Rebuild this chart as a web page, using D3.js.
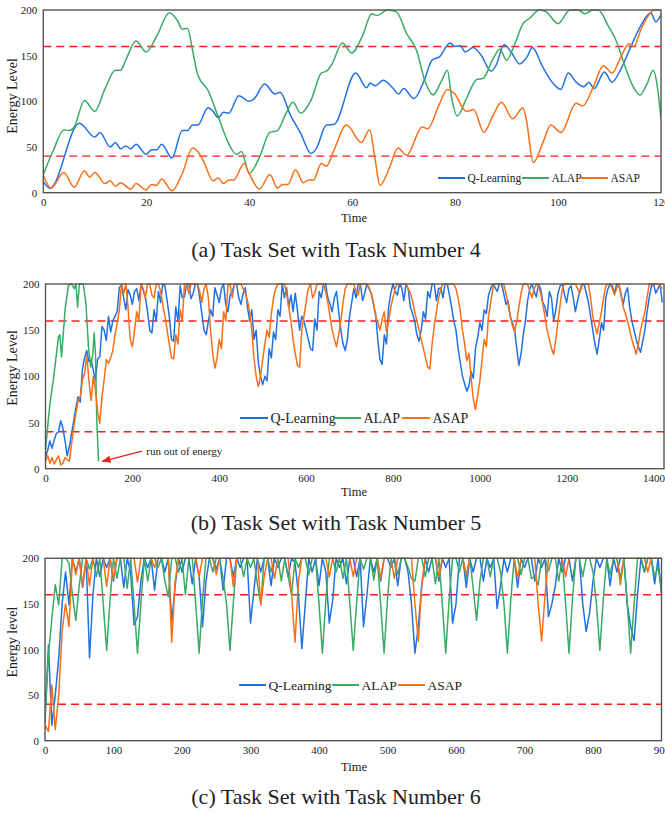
<!DOCTYPE html>
<html>
<head>
<meta charset="utf-8">
<script src="https://cdn.jsdelivr.net/npm/d3@7"></script>
<style>
  body { margin: 0; background: #fff; }
  text { font-family: "Liberation Serif", "DejaVu Serif", serif; fill: #222; }
</style>
</head>
<body>
<script>
// ---------- data ----------
const seriesNames = ["Q-Learning", "ALAP", "ASAP"];
const yTicks = [0, 50, 100, 150, 200];
const thresholds = [40, 160];

// (a) task number 4 : [time, energy]
const aTicks = [0, 20, 40, 60, 80, 100, 120];
const aQ = [[0,12],[1.3,5],[7,76],[10,61],[11,66],[13,50],[14,55],[15,48],[16,51],[17,48],[18,53],[20,42],[21,47],[22,47],[23,53],[25,38],[27,68],[28,68],[29,74],[30,74],[32,93],[33,89],[34,82],[35,88],[36,87],[38,106],[40,100],[41,103],[43,119],[45,108],[46,110],[48,85],[50,65],[52,43],[53,48],[55,74],[56.5,75],[60.7,131],[62.8,115],[63.5,120],[64.5,117],[66,123],[68,114],[69,108],[70,114],[72,103],[74,123],[75.5,145],[77,149],[79,164],[80,160],[81,161],[82,154],[83.5,159],[85,151],[87,133],[88,140],[89.5,162],[91,153],[92.5,141],[94,149],[95,159],[97,138],[99,120],[100.5,113],[102,131],[103.5,121],[105,116],[106,121],[107,114],[109,132],[110.5,121],[112,133],[114,158],[116,182],[118,197],[119,187],[120,195]];
const aALAP = [[0,20],[2,47],[4,69],[5,68],[6,72],[8,101],[10,89],[12,114],[14,134],[15,134],[16,145],[18,166],[20,154],[22,171],[24.5,197],[26,189],[27,179],[28,180],[29,156],[30,129],[32,112],[34,83],[36,54],[37.5,42],[38.5,45],[40,21],[42,39],[44,66],[45.5,68],[47,85],[48.5,99],[50,87],[52,101],[54,131],[55,133],[56,140],[58.1,164],[59.9,153],[62.1,173],[63.8,196],[64.9,194],[66.8,200],[68.6,198],[70.6,174],[72.5,156],[74.1,123],[75.7,107],[77.4,123],[78.5,134],[79.3,105],[80.4,84],[82.2,103],[84.2,124],[85.4,125],[87.4,147],[88.7,157],[90,145],[91.6,163],[93.2,185],[94.5,191],[96.4,200],[97.7,198],[100,185],[102.3,200],[103.9,200],[105.2,196],[106.8,200],[107.8,200],[109.8,182],[111.4,165],[112.6,145],[114.6,116],[115.9,107],[117.2,118],[118.5,134],[119.1,123],[120,81]];
const aASAP = [[0,19],[1.5,5],[4,22],[6,6],[8,24],[9,17],[10,22],[12,10],[13,13],[14,7],[15,11],[17,4],[18,10],[20,3],[21,9],[22,8],[23,15],[25,2],[27,21],[29,49],[30,45],[31,36],[33,13],[34,16],[35,10],[36,14],[37,14],[39,32],[40,21],[42,4],[44,20],[45.5,5],[46.5,9],[47.5,9],[49,25],[50.5,11],[51.5,14],[52.5,14],[54,32],[55,29],[56.5,47],[58.9,74],[61.8,55],[63.4,69],[64.4,39],[65.4,8],[67.3,28],[68.9,49],[70.6,41],[73.6,72],[74.7,70],[76.8,95],[78.5,113],[79.8,109],[82.2,89],[83.6,91],[85.6,66],[87.4,85],[89,99],[91.2,81],[93.2,93],[93.8,81],[95.2,33],[97,54],[98.6,74],[100.6,66],[103.5,98],[104.8,95],[106.8,115],[108.8,139],[110.5,131],[112,146],[113.8,163],[114.7,160],[116.2,180],[117.8,196],[118.8,200],[120,200]];

// (b) task number 5 : one value every 5 time units (20 per row = 100 units), ALAP as [time, energy]
const bTicks = [0, 200, 400, 600, 800, 1000, 1200, 1400];
const bStep = 5;
const bQ = [12,20,30,22,31,38,40,52,44,30,14,24,38,52,66,78,72,108,120,128,
  116,118,107,96,119,121,154,150,139,165,148,160,165,170,196,199,185,172,194,188,
  178,192,195,182,200,193,185,170,150,147,172,160,192,180,200,198,182,165,140,138,
  175,160,198,185,186,200,200,184,190,200,200,185,168,150,145,160,172,165,196,188,
  180,195,200,178,170,188,192,200,200,185,178,190,196,175,160,172,140,150,115,100,
  91,100,95,130,120,148,140,172,165,200,185,196,175,188,170,190,172,150,165,160,
  150,140,130,128,162,150,192,185,200,200,185,178,170,185,192,170,150,135,128,140,
  165,180,195,185,200,200,182,190,200,195,190,178,168,140,118,113,145,135,175,190,
  200,192,188,200,196,182,200,195,175,168,160,145,138,150,170,162,192,185,200,200,
  182,195,196,185,200,200,188,175,160,150,130,115,100,92,84,90,105,98,130,142,
  158,150,172,168,188,195,200,196,192,200,200,190,178,182,165,158,150,130,112,125,
  145,160,182,195,200,192,186,200,195,180,175,165,192,185,160,172,190,198,200,188,
  180,195,198,185,170,182,192,200,200,190,180,165,150,135,124,140,158,150,185,195,
  200,198,190,200,200,188,178,190,196,175,160,150,140,132,126,138,150,170,185,198,
  200,190,195,200,180];
const bASAP = [8,14,6,12,5,10,14,4,6,12,10,8,27,45,60,74,78,96,103,123,
  95,74,100,85,62,49,78,96,118,114,120,128,145,157,172,200,190,200,175,140,
  132,150,170,160,200,195,185,200,200,188,185,200,200,192,178,165,150,135,120,119,
  145,135,172,160,200,200,190,200,200,200,200,192,180,195,200,185,150,125,109,120,
  140,130,170,160,198,200,185,200,200,200,200,195,190,182,170,150,120,100,89,100,
  118,135,150,142,168,185,195,200,200,200,200,190,175,160,140,125,112,110,150,165,
  180,195,200,185,190,200,200,200,200,192,180,165,150,140,132,145,160,180,195,200,
  200,200,200,192,188,200,200,200,200,196,190,180,165,158,150,162,170,148,160,175,
  185,195,200,200,200,200,200,195,190,182,170,160,150,140,130,120,110,108,135,155,
  170,185,195,200,200,200,200,200,200,195,185,170,150,135,117,125,98,75,64,80,
  95,118,140,132,165,180,195,200,200,200,200,200,190,178,165,155,148,160,175,190,
  200,200,200,192,185,195,200,198,190,178,165,150,140,130,124,140,160,178,195,200,
  200,200,200,200,200,195,190,198,200,200,200,185,165,155,146,158,170,185,198,200,
  200,195,188,195,200,190,175,168,160,150,140,132,124,135,150,160,170,185,200,200,
  200,200,200,198,195];
const bALAP = [[0,20],[10,70],[18,96],[30,143],[33,145],[37,121],[45,172],[53,199],[60,200],[66,195],[70,200],[74,175],[78,200],[87,200],[93,179],[99,132],[104,110],[109,125],[112,147],[115,125],[118,53],[122,8]];

// (c) task number 6 : one value every 5 time units (9 per row = 45 units)
const cTicks = [0, 100, 200, 300, 400, 500, 600, 700, 800, 900];
const cStep = 5;
const cQ = [20,105,17,50,90,150,185,149,200,
  185,200,168,200,91,160,200,180,200,
  190,200,175,200,200,168,200,185,127,
  136,175,200,190,200,165,200,200,185,
  200,129,170,200,185,200,200,172,200,
  180,125,175,200,200,188,200,165,200,
  200,180,200,190,200,200,129,165,200,
  185,200,200,170,200,190,200,200,180,
  200,195,160,101,150,200,185,200,170,
  200,185,129,154,200,190,200,172,200,
  200,180,200,125,160,200,185,200,175,
  200,200,190,200,170,200,200,185,150,
  96,125,170,200,185,200,200,175,200,
  190,200,129,150,200,200,168,200,185,
  200,200,175,200,190,200,145,170,200,
  185,200,200,168,200,190,200,200,175,
  200,190,200,136,150,170,200,185,200,
  200,175,200,200,150,120,140,175,200,
  190,200,200,170,200,185,200,200,150,
  125,110,160,200,185,200,200,172,200,
  160];
const cALAP = [25,94,134,171,149,200,200,195,160,
  132,170,200,200,188,200,180,200,150,
  99,155,200,178,200,200,167,200,150,
  96,150,200,175,200,200,190,200,175,
  158,200,200,185,200,160,200,200,150,
  96,155,200,200,185,200,200,178,150,
  99,152,200,200,180,200,190,200,172,
  150,200,200,185,200,200,175,200,180,
  160,200,190,200,200,182,200,200,150,
  96,155,200,200,185,200,178,200,150,
  99,152,200,188,200,200,176,200,150,
  96,155,200,200,182,200,200,190,178,
  175,200,200,180,200,200,172,200,150,
  96,155,200,200,185,200,178,200,168,
  132,175,200,200,180,200,200,185,150,
  96,155,200,200,182,200,200,178,180,
  171,200,200,186,200,200,175,200,150,
  96,155,200,200,180,200,200,185,150,
  99,155,200,182,200,200,178,200,150,
  96,150,200,200,185,200,200,180,190,
  165];
const cASAP = [17,10,61,12,50,120,150,125,200,
  182,200,169,200,170,200,200,200,200,
  169,200,178,200,200,200,200,200,200,
  174,200,200,200,200,190,200,200,200,
  200,108,175,200,200,200,200,200,200,
  180,200,200,200,200,182,200,200,200,
  200,169,200,200,200,200,200,200,200,
  149,180,200,200,178,200,200,200,200,
  160,108,175,200,200,200,200,200,200,
  200,200,180,200,200,200,200,200,200,
  180,200,200,200,200,200,200,200,178,
  200,200,200,178,200,200,200,200,200,
  150,109,170,200,200,200,200,180,200,
  200,200,200,200,200,200,182,200,200,
  200,200,200,200,200,200,200,200,200,
  200,200,200,178,200,200,200,200,200,
  150,109,160,200,200,200,200,200,180,
  200,200,200,200,200,200,200,200,200,
  200,200,200,200,200,200,171,200,200,
  200,200,200,200,200,185,200,200,200,
  200];

// ---------- drawing ----------
const colors = ["#2271e3", "#3aaa64", "#f96f17"];
const W = 665, H = 813;
const serif = "'Liberation Serif', 'DejaVu Serif', serif";

const svg = d3.select("body").append("svg")
    .attr("width", W)
    .attr("height", H);

// arrow head for the annotation
svg.append("defs").append("marker")
    .attr("id", "arrow")
    .attr("viewBox", "0 0 10 10")
    .attr("refX", 9).attr("refY", 5)
    .attr("markerWidth", 7).attr("markerHeight", 7)
    .attr("orient", "auto")
  .append("path")
    .attr("d", "M0,1 L10,5 L0,9 z")
    .attr("fill", "#e8231c");

const stepped = (vals, step) => vals.map((v, i) => [i * step, v]);

const panels = [
  { id: "a", left: 43.3, right: 661, top: 10, bottom: 192.7, xMax: 120, ticks: aTicks,
    series: [aQ, aALAP, aASAP], smooth: true,
    ylabel: "Energy Level", ylabelY: 96, timeY: 222,
    caption: "(a) Task Set with Task Number 4", captionY: 257,
    legend: { xs: [438, 522, 581], y: 178, len: 27, size: 11.5 } },
  { id: "b", left: 45.5, right: 664, top: 284, bottom: 468.7, xMax: 1424, ticks: bTicks,
    series: [stepped(bQ, bStep), bALAP, stepped(bASAP, bStep)], smooth: false,
    ylabel: "Energy Level", ylabelY: 368, timeY: 496,
    caption: "(b) Task Set with Task Number 5", captionY: 530,
    legend: { xs: [240, 333, 402], y: 418, len: 28, size: 14 } },
  { id: "c", left: 45, right: 661.5, top: 558.3, bottom: 740.7, xMax: 900, ticks: cTicks,
    series: [stepped(cQ, cStep), stepped(cALAP, cStep), stepped(cASAP, cStep)], smooth: false,
    ylabel: "Energy level", ylabelY: 642, timeY: 771,
    caption: "(c) Task Set with Task Number 6", captionY: 804,
    legend: { xs: [239, 332, 398], y: 685, len: 27, size: 13.5 } }
];

panels.forEach(p => {
  const x = d3.scaleLinear().domain([0, p.xMax]).range([p.left, p.right]);
  const y = d3.scaleLinear().domain([0, 200]).range([p.bottom, p.top]);
  const g = svg.append("g").attr("id", "panel-" + p.id);

  g.append("clipPath").attr("id", "clip-" + p.id)
    .append("rect")
    .attr("x", p.left).attr("y", p.top - 1)
    .attr("width", p.right - p.left).attr("height", p.bottom - p.top + 1);

  // threshold lines
  g.selectAll(".thr")
    .data(thresholds)
    .enter()
    .append("line")
    .attr("x1", p.left).attr("x2", p.right)
    .attr("y1", d => y(d)).attr("y2", d => y(d))
    .attr("stroke", "#ff1a1a")
    .attr("stroke-width", 1.4)
    .attr("stroke-dasharray", "8,5");

  const line = d3.line()
    .x(d => x(d[0]))
    .y(d => y(d[1]))
    .curve(p.smooth ? d3.curveMonotoneX : d3.curveLinear);

  g.append("g").attr("clip-path", "url(#clip-" + p.id + ")")
    .selectAll("path")
    .data(p.series)
    .enter()
    .append("path")
    .attr("d", line)
    .attr("fill", "none")
    .attr("stroke", (d, i) => colors[i])
    .attr("stroke-width", 1.5)
    .attr("stroke-linejoin", "round");

  // frame
  g.append("rect")
    .attr("x", p.left).attr("y", p.top)
    .attr("width", p.right - p.left).attr("height", p.bottom - p.top)
    .attr("fill", "none")
    .attr("stroke", "#555")
    .attr("stroke-width", 1.4);

  // axes
  const xAxis = g.append("g")
    .attr("transform", "translate(0," + p.bottom + ")")
    .call(d3.axisBottom(x).tickValues(p.ticks).tickFormat(d3.format("d")).tickSize(0).tickPadding(6));
  const yAxis = g.append("g")
    .attr("transform", "translate(" + p.left + ",0)")
    .call(d3.axisLeft(y).tickValues(yTicks).tickFormat(d3.format("d")).tickSize(0).tickPadding(6));
  [xAxis, yAxis].forEach(a => {
    a.attr("font-family", serif).attr("font-size", 11);
    a.select(".domain").remove();
    a.selectAll("text").attr("fill", "#222");
  });

  // axis titles
  g.append("text")
    .attr("x", 354).attr("y", p.timeY)
    .attr("text-anchor", "middle")
    .style("font-size", "12.5px")
    .text("Time");
  g.append("text")
    .attr("transform", "translate(16.5," + p.ylabelY + ") rotate(-90)")
    .attr("text-anchor", "middle")
    .style("font-size", "14px")
    .text(p.ylabel);

  // legend
  const lg = g.append("g").selectAll("g")
    .data(seriesNames)
    .enter()
    .append("g")
    .attr("transform", (d, i) => "translate(" + p.legend.xs[i] + "," + p.legend.y + ")");
  lg.append("line")
    .attr("x1", 0).attr("x2", p.legend.len)
    .attr("stroke", (d, i) => colors[i])
    .attr("stroke-width", 2);
  lg.append("text")
    .attr("x", p.legend.len + 2.5)
    .attr("dy", "0.35em")
    .style("font-size", p.legend.size + "px")
    .text(d => d);

  // caption
  svg.append("text")
    .attr("x", 336).attr("y", p.captionY)
    .attr("text-anchor", "middle")
    .style("font-size", "22px")
    .attr("fill", "#111")
    .text(p.caption);

  // annotation for the ALAP failure in (b)
  if (p.id === "b") {
    g.append("line")
      .attr("x1", x(222)).attr("y1", y(19))
      .attr("x2", x(131)).attr("y2", y(8))
      .attr("stroke", "#e8231c")
      .attr("stroke-width", 1.3)
      .attr("marker-end", "url(#arrow)");
    g.append("text")
      .attr("x", x(232)).attr("y", y(19))
      .attr("dy", "0.35em")
      .style("font-size", "11px")
      .text("run out of energy");
  }
});
</script>
</body>
</html>
